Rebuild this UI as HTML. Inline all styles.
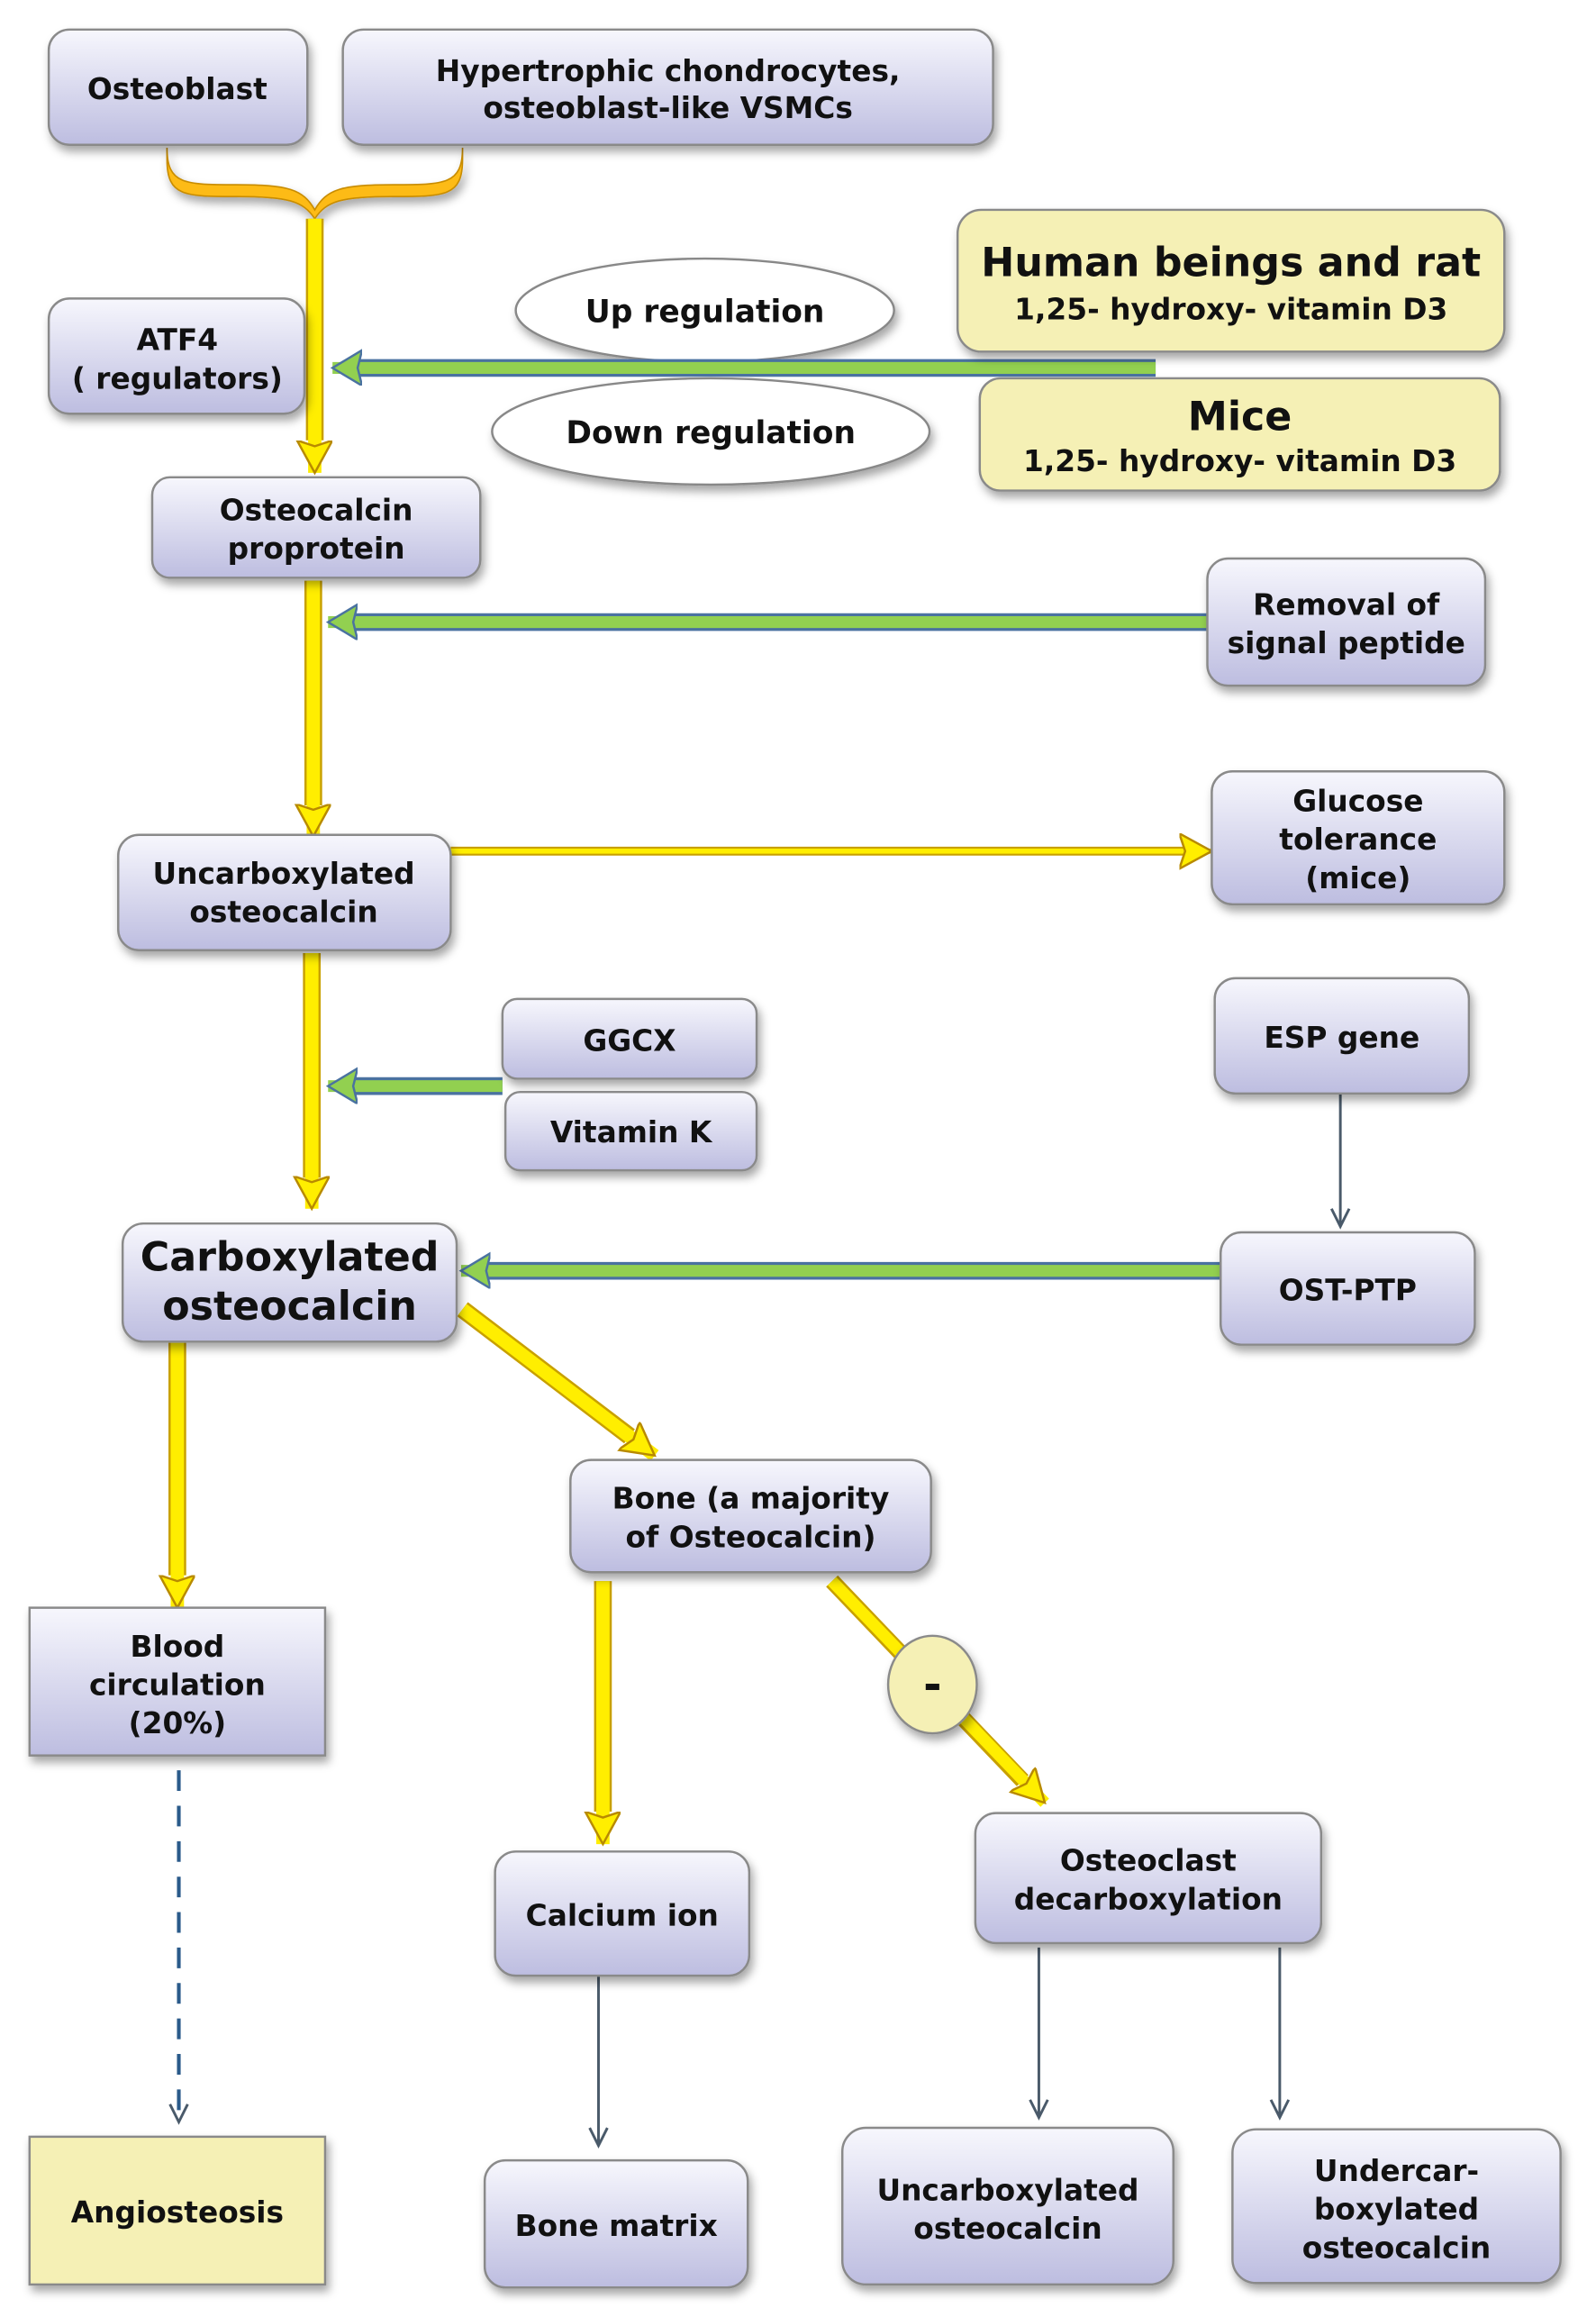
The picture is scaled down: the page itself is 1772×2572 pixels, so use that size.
<!DOCTYPE html>
<html><head><meta charset="utf-8"><style>
html,body{margin:0;padding:0;background:#fff;}
svg{display:block;}
text{font-family:"DejaVu Sans","Liberation Sans",sans-serif;font-weight:bold;fill:#111;text-anchor:middle;}
</style></head><body>
<svg width="1772" height="2572" viewBox="0 0 1080 1568" preserveAspectRatio="none" xmlns="http://www.w3.org/2000/svg">
<defs>
<linearGradient id="g" x1="0" y1="0" x2="0" y2="1"><stop offset="0" stop-color="#f7f7fd"/><stop offset="1" stop-color="#bdbde0"/></linearGradient>
<filter id="sh" x="-10%" y="-10%" width="125%" height="135%"><feDropShadow dx="2" dy="4" stdDeviation="3" flood-color="#000" flood-opacity="0.35"/></filter>
<marker id="ya" markerUnits="userSpaceOnUse" markerWidth="30" markerHeight="30" refX="22" refY="12" orient="auto"><path d="M0,0 L22,12 L0,24 L4,12 Z" fill="#ffee00" stroke="#b88a00" stroke-width="1.5"/></marker>
<marker id="ga" markerUnits="userSpaceOnUse" markerWidth="30" markerHeight="30" refX="20" refY="12" orient="auto"><path d="M0,0 L20,12 L0,24 L3,12 Z" fill="#92d050" stroke="#4a72a0" stroke-width="1.5"/></marker>
<marker id="ta" markerUnits="userSpaceOnUse" markerWidth="20" markerHeight="20" refX="14" refY="8" orient="auto"><path d="M2,2 L14,8 L2,14" fill="none" stroke="#4a5a6a" stroke-width="1.8"/></marker>
</defs>

<!-- brace -->
<path d="M113,100 C113,125 125,125 160,125 C195,125 205,128 213,142 C221,128 231,125 266,125 C301,125 313,125 313,100 L313,108 C313,133 301,133 266,133 C231,133 221,136 213,148 C205,136 195,133 160,133 C125,133 113,133 113,108 Z" fill="#fdbb15" stroke="#c88c00" stroke-width="1" filter="url(#sh)"/>

<!-- yellow vertical arrows -->
<g stroke-linecap="butt">
<line x1="213" y1="148" x2="213" y2="298" stroke="#c8a000" stroke-width="12"/>
<line x1="213" y1="148" x2="213" y2="320" stroke="#ffee00" stroke-width="9" marker-end="url(#ya)"/>
<line x1="212" y1="393" x2="212" y2="545" stroke="#c8a000" stroke-width="12"/>
<line x1="212" y1="393" x2="212" y2="566" stroke="#ffee00" stroke-width="9" marker-end="url(#ya)"/>
<line x1="211" y1="645" x2="211" y2="797" stroke="#c8a000" stroke-width="12"/>
<line x1="211" y1="645" x2="211" y2="818" stroke="#ffee00" stroke-width="9" marker-end="url(#ya)"/>
<line x1="120" y1="908" x2="120" y2="1066" stroke="#c8a000" stroke-width="12"/>
<line x1="120" y1="908" x2="120" y2="1088" stroke="#ffee00" stroke-width="9" marker-end="url(#ya)"/>
<line x1="408" y1="1070" x2="408" y2="1226" stroke="#c8a000" stroke-width="12"/>
<line x1="408" y1="1070" x2="408" y2="1248" stroke="#ffee00" stroke-width="9" marker-end="url(#ya)"/>
<line x1="313" y1="886" x2="426" y2="972" stroke="#c8a000" stroke-width="12"/>
<line x1="313" y1="886" x2="443" y2="985" stroke="#ffee00" stroke-width="9" marker-end="url(#ya)"/>
<line x1="563" y1="1070" x2="692" y2="1205" stroke="#c8a000" stroke-width="11"/>
<line x1="563" y1="1070" x2="707" y2="1220" stroke="#ffee00" stroke-width="8" marker-end="url(#ya)"/>
<line x1="305" y1="576" x2="805" y2="576" stroke="#c8a000" stroke-width="6"/>
<line x1="305" y1="576" x2="820" y2="576" stroke="#ffee00" stroke-width="3.5" marker-end="url(#ya)"/>
</g>

<!-- ellipses -->
<ellipse cx="477" cy="210" rx="128" ry="35" fill="#fff" stroke="#888" stroke-width="1.5" filter="url(#sh)"/>
<ellipse cx="481" cy="292" rx="148" ry="36" fill="#fff" stroke="#888" stroke-width="1.5" filter="url(#sh)"/>
<text x="477" y="218" font-size="21">Up regulation</text>
<text x="481" y="300" font-size="21">Down regulation</text>

<!-- green arrows -->
<g>
<line x1="782" y1="249" x2="240" y2="249" stroke="#4a72a0" stroke-width="12"/>
<line x1="782" y1="249" x2="225" y2="249" stroke="#92d050" stroke-width="8" marker-end="url(#ga)"/>
<line x1="817" y1="421" x2="238" y2="421" stroke="#4a72a0" stroke-width="12"/>
<line x1="817" y1="421" x2="222" y2="421" stroke="#92d050" stroke-width="8" marker-end="url(#ga)"/>
<line x1="340" y1="735" x2="238" y2="735" stroke="#4a72a0" stroke-width="12"/>
<line x1="340" y1="735" x2="222" y2="735" stroke="#92d050" stroke-width="8" marker-end="url(#ga)"/>
<line x1="826" y1="860" x2="328" y2="860" stroke="#4a72a0" stroke-width="12"/>
<line x1="826" y1="860" x2="312" y2="860" stroke="#92d050" stroke-width="8" marker-end="url(#ga)"/>
</g>

<!-- thin arrows -->
<line x1="907" y1="740" x2="907" y2="830" stroke="#4a5a6a" stroke-width="1.8" marker-end="url(#ta)"/>
<line x1="405" y1="1337" x2="405" y2="1452" stroke="#4a5a6a" stroke-width="1.8" marker-end="url(#ta)"/>
<line x1="703" y1="1318" x2="703" y2="1433" stroke="#4a5a6a" stroke-width="1.8" marker-end="url(#ta)"/>
<line x1="866" y1="1318" x2="866" y2="1433" stroke="#4a5a6a" stroke-width="1.8" marker-end="url(#ta)"/>
<line x1="121" y1="1198" x2="121" y2="1436" stroke="#2a5a8a" stroke-width="2.5" stroke-dasharray="14,10" marker-end="url(#ta)"/>

<!-- boxes -->
<g fill="url(#g)" stroke="#8a8a8a" stroke-width="1.5" filter="url(#sh)">
<rect x="33" y="20" width="175" height="78" rx="14"/>
<rect x="232" y="20" width="440" height="78" rx="14"/>
<rect x="33" y="202" width="173" height="78" rx="14"/>
<rect x="103" y="323" width="222" height="68" rx="12"/>
<rect x="817" y="378" width="188" height="86" rx="14"/>
<rect x="80" y="565" width="225" height="78" rx="14"/>
<rect x="820" y="522" width="198" height="90" rx="14"/>
<rect x="340" y="676" width="172" height="54" rx="10"/>
<rect x="342" y="739" width="170" height="53" rx="10"/>
<rect x="822" y="662" width="172" height="78" rx="14"/>
<rect x="826" y="834" width="172" height="76" rx="14"/>
<rect x="83" y="828" width="226" height="80" rx="14"/>
<rect x="386" y="988" width="244" height="76" rx="14"/>
<rect x="20" y="1088" width="200" height="100" rx="0"/>
<rect x="335" y="1253" width="172" height="84" rx="14"/>
<rect x="328" y="1462" width="178" height="86" rx="14"/>
<rect x="660" y="1227" width="234" height="88" rx="14"/>
<rect x="570" y="1440" width="224" height="106" rx="16"/>
<rect x="834" y="1441" width="222" height="104" rx="16"/>
</g>
<g fill="#f5f0b5" stroke="#8a8a8a" stroke-width="1.5" filter="url(#sh)">
<rect x="648" y="142" width="370" height="96" rx="16"/>
<rect x="663" y="256" width="352" height="76" rx="14"/>
<rect x="20" y="1446" width="200" height="100" rx="0"/>
<ellipse cx="631" cy="1140" rx="30" ry="33"/>
</g>

<!-- labels -->
<g font-size="20">
<text x="120" y="67">Osteoblast</text>
<text x="452" y="55">Hypertrophic chondrocytes,</text>
<text x="452" y="80">osteoblast-like VSMCs</text>
<text x="120" y="237">ATF4</text>
<text x="120" y="263">( regulators)</text>
<text x="214" y="352">Osteocalcin</text>
<text x="214" y="378">proprotein</text>
<text x="911" y="416">Removal of</text>
<text x="911" y="442">signal peptide</text>
<text x="192" y="598">Uncarboxylated</text>
<text x="192" y="624">osteocalcin</text>
<text x="919" y="549">Glucose</text>
<text x="919" y="575">tolerance</text>
<text x="919" y="601">(mice)</text>
<text x="426" y="711">GGCX</text>
<text x="427" y="773">Vitamin K</text>
<text x="908" y="709">ESP gene</text>
<text x="912" y="880">OST-PTP</text>
<text x="508" y="1021">Bone (a majority</text>
<text x="508" y="1047">of Osteocalcin)</text>
<text x="120" y="1121">Blood</text>
<text x="120" y="1147">circulation</text>
<text x="120" y="1173">(20%)</text>
<text x="421" y="1303">Calcium ion</text>
<text x="417" y="1513">Bone matrix</text>
<text x="777" y="1266">Osteoclast</text>
<text x="777" y="1292">decarboxylation</text>
<text x="682" y="1489">Uncarboxylated</text>
<text x="682" y="1515">osteocalcin</text>
<text x="945" y="1476">Undercar-</text>
<text x="945" y="1502">boxylated</text>
<text x="945" y="1528">osteocalcin</text>
<text x="120" y="1504">Angiosteosis</text>
<text x="833" y="216">1,25- hydroxy- vitamin D3</text>
<text x="839" y="319">1,25- hydroxy- vitamin D3</text>
</g>
<text x="833" y="187" font-size="27">Human beings and rat</text>
<text x="839" y="291" font-size="27">Mice</text>
<text x="196" y="860" font-size="27">Carboxylated</text>
<text x="196" y="893" font-size="27">osteocalcin</text>
<text x="631" y="1150" font-size="30">-</text>
</svg>
</body></html>
